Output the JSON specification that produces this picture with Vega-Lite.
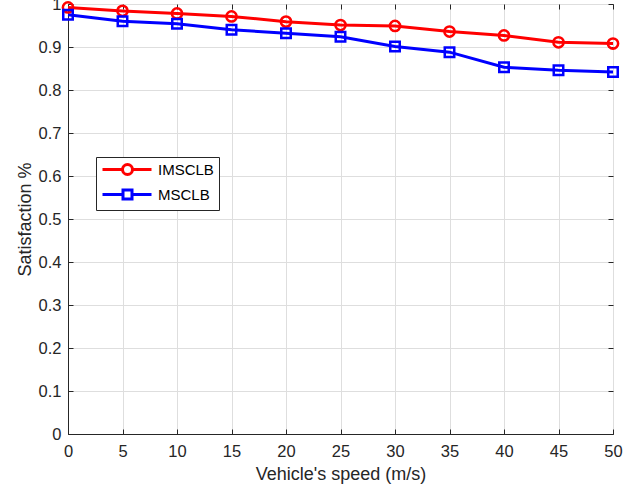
{
  "$schema": "https://vega.github.io/schema/vega-lite/v6.json",
  "width": 545,
  "height": 430,
  "autosize": {"type": "none"},
  "padding": {"left": 68, "top": 4, "right": 22, "bottom": 58},
  "background": "white",
  "config": {
    "font": "Liberation Sans",
    "view": {"stroke": "#262626", "strokeWidth": 1},
    "axis": {
      "domainColor": "#262626",
      "tickColor": "#262626",
      "labelColor": "#262626",
      "titleColor": "#262626",
      "labelFontSize": 16.5,
      "titleFontSize": 18,
      "titleFontWeight": "normal",
      "gridColor": "#dedede",
      "gridWidth": 1
    }
  },
  "data": {
    "values": [
      {"speed": 0, "method": "IMSCLB", "value": 0.992},
      {"speed": 5, "method": "IMSCLB", "value": 0.984},
      {"speed": 10, "method": "IMSCLB", "value": 0.978},
      {"speed": 15, "method": "IMSCLB", "value": 0.971},
      {"speed": 20, "method": "IMSCLB", "value": 0.959},
      {"speed": 25, "method": "IMSCLB", "value": 0.951},
      {"speed": 30, "method": "IMSCLB", "value": 0.949},
      {"speed": 35, "method": "IMSCLB", "value": 0.936},
      {"speed": 40, "method": "IMSCLB", "value": 0.927},
      {"speed": 45, "method": "IMSCLB", "value": 0.911},
      {"speed": 50, "method": "IMSCLB", "value": 0.908},
      {"speed": 0, "method": "MSCLB", "value": 0.975},
      {"speed": 5, "method": "MSCLB", "value": 0.960},
      {"speed": 10, "method": "MSCLB", "value": 0.954},
      {"speed": 15, "method": "MSCLB", "value": 0.940},
      {"speed": 20, "method": "MSCLB", "value": 0.932},
      {"speed": 25, "method": "MSCLB", "value": 0.924},
      {"speed": 30, "method": "MSCLB", "value": 0.901},
      {"speed": 35, "method": "MSCLB", "value": 0.888},
      {"speed": 40, "method": "MSCLB", "value": 0.853},
      {"speed": 45, "method": "MSCLB", "value": 0.846},
      {"speed": 50, "method": "MSCLB", "value": 0.842}
    ]
  },
  "resolve": {"axis": {"x": "independent", "y": "independent"}},
  "layer": [
    {
      "mark": {"type": "line", "strokeWidth": 3, "clip": false},
      "encoding": {
        "x": {
          "field": "speed", "type": "quantitative",
          "scale": {"domain": [0, 50], "nice": false, "zero": false},
          "axis": {
            "values": [0, 5, 10, 15, 20, 25, 30, 35, 40, 45, 50],
            "title": "Vehicle's speed (m/s)",
            "tickSize": -5,
            "labelPadding": 14,
            "titlePadding": 6,
            "grid": true,
            "labelFlush": false
          }
        },
        "y": {
          "field": "value", "type": "quantitative",
          "scale": {"domain": [0, 1], "nice": false},
          "axis": {
            "values": [0, 0.1, 0.2, 0.3, 0.4, 0.5, 0.6, 0.7, 0.8, 0.9, 1],
            "format": "~g",
            "title": "Satisfaction %",
            "tickSize": -5,
            "labelPadding": 12,
            "titlePadding": 4,
            "grid": true,
            "labelFlush": false
          }
        },
        "color": {
          "field": "method", "type": "nominal",
          "scale": {"domain": ["IMSCLB", "MSCLB"], "range": ["#ff0000", "#0000ff"]}
        }
      }
    },
    {
      "transform": [{"filter": "datum.method === 'IMSCLB'"}],
      "mark": {"type": "point", "shape": "circle", "filled": false, "strokeWidth": 2.5, "size": 105, "opacity": 1, "clip": false},
      "encoding": {
        "x": {"field": "speed", "type": "quantitative", "axis": null},
        "y": {"field": "value", "type": "quantitative", "axis": null},
        "color": {"field": "method", "type": "nominal"}
      }
    },
    {
      "transform": [{"filter": "datum.method === 'MSCLB'"}],
      "mark": {"type": "point", "shape": "square", "filled": false, "strokeWidth": 2.5, "size": 90, "opacity": 1, "clip": false},
      "encoding": {
        "x": {"field": "speed", "type": "quantitative", "axis": null},
        "y": {"field": "value", "type": "quantitative", "axis": null},
        "color": {"field": "method", "type": "nominal"}
      }
    },
    {
      "mark": {"type": "point", "filled": false, "opacity": 0, "strokeWidth": 3, "size": 100},
      "encoding": {
        "x": {
          "field": "speed", "type": "quantitative",
          "axis": {"orient": "top", "values": [0, 5, 10, 15, 20, 25, 30, 35, 40, 45, 50], "labels": false, "title": null, "grid": false, "tickSize": -5, "domain": false}
        },
        "y": {
          "field": "value", "type": "quantitative",
          "axis": {"orient": "right", "values": [0, 0.1, 0.2, 0.3, 0.4, 0.5, 0.6, 0.7, 0.8, 0.9, 1], "labels": false, "title": null, "grid": false, "tickSize": -5, "domain": false}
        },
        "color": {
          "field": "method", "type": "nominal",
          "legend": {
            "orient": "none", "legendX": 28, "legendY": 153, "title": null,
            "labelFontSize": 15, "labelColor": "#000000", "labelOffset": 42,
            "strokeColor": "#262626", "fillColor": "#ffffff",
            "padding": 5, "rowPadding": 3, "symbolSize": 100, "symbolStrokeWidth": 3,
            "encode": {"symbols": {"update": {"opacity": {"value": 1}, "strokeWidth": {"value": 3}}}}
          }
        },
        "shape": {
          "field": "method", "type": "nominal",
          "scale": {"domain": ["IMSCLB", "MSCLB"], "range": ["M-1.2,0H2.8A1,1,0,1,1,4.8,0A1,1,0,1,1,2.8,0M4.8,0H8.6", "M-1.2,0H2.9V-0.9H4.7V0.9H2.9V0M4.7,0H8.6"]},
          "legend": {
            "orient": "none", "legendX": 28, "legendY": 153, "title": null,
            "labelFontSize": 15, "labelColor": "#000000", "labelOffset": 42,
            "strokeColor": "#262626", "fillColor": "#ffffff",
            "padding": 5, "rowPadding": 3, "symbolSize": 100, "symbolStrokeWidth": 3,
            "encode": {"symbols": {"update": {"opacity": {"value": 1}, "strokeWidth": {"value": 3}}}}
          }
        }
      }
    }
  ]
}
